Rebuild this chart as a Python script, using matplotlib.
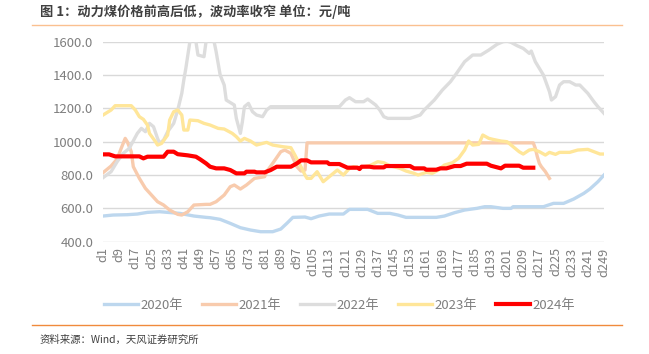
import numpy as np
import matplotlib
matplotlib.use("Agg")
import matplotlib.pyplot as plt
from matplotlib.lines import Line2D

plt.rcParams['font.family'] = ['Noto Sans CJK SC', 'DejaVu Sans']

# ---- data (day index -> price) ----
days_2020 = [1, 6, 13, 18, 23, 29, 39, 46, 52, 54, 59, 64, 69, 74, 79, 85, 89, 92, 95, 101,
             104, 108, 113, 120, 123, 132, 137, 143, 147, 151, 166, 170, 175, 180, 186, 190,
             193, 199, 203, 204, 219, 224, 229, 234, 239, 242, 246, 249]
vals_2020 = [554, 560, 562, 566, 576, 580, 570, 554, 546, 544, 534, 510, 484, 470, 460, 460, 476,
             510, 546, 548, 538, 554, 566, 566, 594, 594, 570, 570, 560, 546, 546, 554, 574, 590,
             600, 610, 610, 600, 600, 610, 610, 630, 630, 656, 690, 716, 760, 800]

days_2021 = [1, 5, 8, 10, 12, 13, 15, 16, 19, 22, 25, 28, 31, 34, 38, 40, 43, 46, 52, 54, 57, 61,
             64, 66, 69, 72, 76, 81, 82, 85, 89, 91, 94, 97, 99, 101, 102, 214, 215, 216, 217,
             218, 220, 222]
vals_2021 = [814, 854, 896, 960, 1020, 1000, 940, 850, 780, 720, 680, 640, 620, 590, 564, 560,
             580, 620, 624, 624, 640, 680, 730, 740, 716, 740, 780, 790, 820, 870, 940, 950, 930,
             850, 824, 830, 993, 993, 960, 910, 870, 850, 820, 780]

days_2022 = [1, 5, 8, 11, 14, 18, 20, 22, 24, 26, 28, 29, 31, 33, 36, 38, 40, 41, 42, 43, 44, 45,
             47, 48, 51, 52, 54, 56, 57, 59, 61, 62, 66, 67, 69, 70, 71, 73, 75, 77, 80, 82, 84,
             118, 121, 123, 126, 130, 132, 136, 138, 140, 142, 153, 158, 160, 165, 169, 173, 176,
             180, 184, 188, 192, 196, 199, 201, 203, 206, 209, 212, 213, 215, 217, 219, 222, 223,
             225, 227, 229, 232, 235, 237, 241, 244, 246, 249]
vals_2022 = [784, 820, 880, 930, 960, 1050, 1080, 1060, 1110, 1090, 1020, 990, 1010, 1060, 1110,
             1190, 1290, 1370, 1440, 1520, 1600, 1660, 1600, 1520, 1510, 1600, 1660, 1600, 1540,
             1400, 1340, 1250, 1220, 1140, 1050, 1120, 1210, 1230, 1180, 1160, 1150, 1190, 1210,
             1210, 1250, 1264, 1240, 1240, 1256, 1220, 1190, 1150, 1140, 1140, 1160, 1190, 1250,
             1310, 1360, 1410, 1480, 1520, 1520, 1550, 1584, 1600, 1604, 1596, 1576, 1560, 1530,
             1544, 1480, 1440, 1400, 1300, 1250, 1270, 1340, 1360, 1360, 1340, 1340, 1290, 1240,
             1210, 1170]

days_2023 = [1, 5, 7, 15, 17, 19, 21, 23, 24, 27, 28, 30, 33, 34, 36, 38, 40, 41, 43, 44, 48, 51,
             54, 58, 61, 65, 67, 69, 71, 74, 77, 80, 82, 85, 90, 94, 96, 99, 101, 102, 104, 107,
             110, 114, 117, 120, 123, 125, 128, 130, 133, 137, 140, 143, 148, 151, 155, 157, 161,
             164, 167, 170, 174, 177, 180, 182, 184, 187, 189, 192, 194, 198, 201, 204, 207, 209,
             212, 214, 217, 220, 222, 225, 227, 232, 236, 241, 244, 247, 249]
vals_2023 = [1160, 1190, 1216, 1216, 1190, 1150, 1134, 1100, 1050, 1000, 980, 990, 1040, 1130,
             1180, 1190, 1160, 1070, 1070, 1130, 1126, 1110, 1100, 1080, 1076, 1050, 1030, 1004,
             1020, 1004, 980, 990, 996, 980, 970, 964, 920, 850, 800, 780, 780, 820, 760, 800,
             830, 800, 840, 850, 844, 850, 856, 880, 874, 856, 840, 824, 810, 800, 816, 810, 830,
             860, 874, 900, 950, 1004, 980, 984, 1040, 1020, 1014, 1004, 1000, 970, 940, 926, 950,
             954, 940, 920, 936, 924, 936, 936, 950, 954, 940, 926, 926]

days_2024 = [1, 4, 7, 19, 21, 23, 31, 33, 36, 38, 43, 47, 49, 52, 54, 57, 61, 64, 67, 71, 72, 76,
             77, 81, 84, 87, 94, 97, 99, 102, 104, 112, 113, 118, 122, 127, 128, 129, 133, 135,
             140, 141, 153, 155, 160, 161, 166, 168, 171, 175, 178, 181, 191, 193, 198, 200, 207,
             209, 214]
vals_2024 = [924, 924, 912, 912, 900, 910, 910, 940, 940, 925, 918, 910, 895, 870, 850, 840, 840,
             830, 810, 810, 820, 820, 816, 816, 830, 850, 850, 870, 888, 888, 876, 876, 866, 866,
             844, 844, 836, 850, 850, 846, 846, 854, 854, 840, 840, 832, 832, 840, 840, 854, 854,
             868, 868, 856, 840, 856, 856, 844, 844]

series_names = ['2020年', '2021年', '2022年', '2023年', '2024年']
tick_days = list(range(1, 250, 8))
tick_labels = ['d%d' % d for d in tick_days]
y_ticks = [400, 600, 800, 1000, 1200, 1400, 1600]

colors = ['#BDD7EE', '#F8CBAD', '#DDDDDD', '#FFE699', '#FF0000']
widths = [2.4, 2.4, 2.4, 2.4, 3.0]

#%%
fig = plt.figure(figsize=(6.49, 3.54), dpi=100)
ax = fig.add_axes([103 / 649, 1 - 241.7 / 354, (604 - 103) / 649, 200 / 354])

all_days = [days_2020, days_2021, days_2022, days_2023, days_2024]
all_vals = [vals_2020, vals_2021, vals_2022, vals_2023, vals_2024]
for d, v, c, w, n in zip(all_days, all_vals, colors, widths, series_names):
    ax.plot(d, v, color=c, lw=w, label=n, solid_joinstyle='round')

ax.set_xlim(1, 249)
ax.set_ylim(400, 1600)
ax.set_yticks(y_ticks)
ax.set_yticklabels(['%.1f' % y for y in y_ticks], fontsize=9.5, color='#7F7F7F')
ax.set_xticks(tick_days)
ax.set_xticklabels(tick_labels, rotation=90, fontsize=9.2, color='#7F7F7F')
ax.tick_params(length=0)
ax.tick_params(axis='y', pad=7)
ax.tick_params(axis='x', pad=4)
ax.grid(axis='y', color='#D9D9D9', lw=1)
ax.set_axisbelow(True)
for s in ax.spines.values():
    s.set_visible(False)

fig.legend(loc='center', bbox_to_anchor=(0.523, 0.138), ncol=5, frameon=False,
           fontsize=9.5, handlelength=2.6, columnspacing=1.4, handletextpad=0.2,
           labelcolor='#7F7F7F')

# title, rules and source
fig.text(40 / 649, 1 - 12 / 354, '图 1：动力煤价格前高后低，波动率收窄 单位：元/吨',
         fontsize=9.5, fontweight='bold', color='#404040', va='center', ha='left')
fig.add_artist(Line2D([32 / 649, 622 / 649], [1 - 24.5 / 354] * 2, color='#FAC090', lw=1))
fig.add_artist(Line2D([32 / 649, 622 / 649], [1 - 325 / 354] * 2, color='#F08A3C', lw=1))
fig.text(40 / 649, 1 - 340 / 354, '资料来源：Wind，天风证券研究所',
         fontsize=7.5, color='#404040', va='center', ha='left')

fig.savefig('out.png', dpi=100)
